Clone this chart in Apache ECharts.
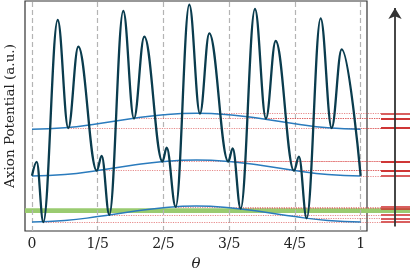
<!DOCTYPE html>
<html><head><meta charset="utf-8">
<script src="https://cdn.jsdelivr.net/npm/echarts@6/dist/echarts.min.js"></script>
<style>html,body{margin:0;padding:0;background:#fff}#c{width:410px;height:274px}</style>
</head><body><div id="c"></div>
<script>
// ---- data (theta, potential in a.u.) ----
const thetaTicks = [0, 0.2, 0.4, 0.6, 0.8, 1];
const tickLabels = ['0', '1/5', '2/5', '3/5', '4/5', '1'];

// extrema of the full potential (dark curve)
const potential = [
  [0, 5.52], [0.0143, 6.92], [0.0344, 0.9], [0.0782, 21.1], [0.1104, 10.3], [0.1409, 18.43],
  [0.197, 6.03], [0.2121, 7.5], [0.2352, 1.62], [0.2777, 22.0], [0.3103, 11.25], [0.3417, 19.43],
  [0.397, 6.95], [0.4098, 8.33], [0.4372, 2.42], [0.4786, 22.63], [0.5111, 11.73], [0.5394, 19.77],
  [0.597, 6.95], [0.6106, 8.27], [0.6349, 2.24], [0.6784, 22.2], [0.7119, 11.25], [0.7414, 19.0],
  [0.797, 6.03], [0.8123, 7.43], [0.8357, 1.27], [0.8783, 21.27], [0.9118, 10.3], [0.9422, 18.17],
  [1.0, 5.52]
];

// local minima (start of each red level line)
const minima = [
  [0.0344, 0.9], [0.1104, 10.3], [0.197, 6.03], [0.2352, 1.62], [0.3103, 11.25],
  [0.397, 6.95], [0.4372, 2.42], [0.5111, 11.73], [0.597, 6.95], [0.6349, 2.24],
  [0.7119, 11.25], [0.797, 6.03], [0.8357, 1.27], [0.9118, 10.3], [1.0, 5.52]
];

// smooth envelopes (blue curves)
const envTheta = [0, 0.1, 0.2, 0.3, 0.4, 0.5, 0.6, 0.7, 0.8, 0.9, 1];
const envTop = [10.17, 10.32, 10.72, 11.22, 11.62, 11.77, 11.62, 11.22, 10.72, 10.32, 10.17];
const envMid = [5.5, 5.65, 6.05, 6.55, 6.95, 7.1, 6.95, 6.55, 6.05, 5.65, 5.5];
const envBot = [0.89, 1.04, 1.44, 1.93, 2.33, 2.49, 2.33, 1.93, 1.44, 1.04, 0.89];

// highlighted band
const greenBand = [1.8, 2.27];

// ---- layout (axis units) ----
const X0MIN = -0.0213, X0MAX = 1.0193, X1MAX = 1.15;
const DOT_END = 1.0618, ARROW_X = 1.1044;
const YMIN = 0, YMAX = 23;
const serif = 'DejaVu Serif';

const zip = (xs, ys) => xs.map((x, i) => [x, ys[i]]);

const chart = echarts.init(document.getElementById('c'), null, {renderer: 'canvas'});
const hidden = {show: false};
const option = {
  animation: false,
  grid: [
    {left: 25, right: 43, top: 1, bottom: 43, show: true, borderColor: '#333', borderWidth: 1.2,
     backgroundColor: 'transparent', containLabel: false, outerBoundsMode: 'none'},
    {left: 25, right: 0, top: 1, bottom: 43, show: false, containLabel: false, outerBoundsMode: 'none'}
  ],
  xAxis: [
    {type: 'value', gridIndex: 0, min: X0MIN, max: X0MAX,
     name: 'θ', nameLocation: 'middle', nameGap: 26,
     nameTextStyle: {fontFamily: serif, fontStyle: 'italic', fontSize: 15, color: '#222'},
     axisLine: hidden, axisTick: hidden, splitLine: hidden,
     axisLabel: {customValues: thetaTicks, margin: 6, fontFamily: serif, fontSize: 14, color: '#222',
       formatter: v => { const i = thetaTicks.findIndex(t => Math.abs(t - v) < 1e-6); return i >= 0 ? tickLabels[i] : ''; }}},
    {type: 'value', gridIndex: 1, min: X0MIN, max: X1MAX, show: false, splitLine: hidden}
  ],
  yAxis: [
    {type: 'value', gridIndex: 0, min: YMIN, max: YMAX,
     name: 'Axion Potential (a.u.)', nameLocation: 'middle', nameGap: 8,
     nameTextStyle: {fontFamily: serif, fontSize: 13.5, color: '#222'},
     axisLine: hidden, axisTick: hidden, axisLabel: hidden, splitLine: hidden},
    {type: 'value', gridIndex: 1, min: YMIN, max: YMAX, show: false, splitLine: hidden}
  ],
  series: [
    // green band (across plot and side panel)
    {type: 'line', xAxisIndex: 1, yAxisIndex: 1, data: [], z: 1, silent: true,
     markArea: {silent: true, itemStyle: {color: '#9acb70'},
       data: [[{coord: [X0MIN, greenBand[0]]}, {coord: [X1MAX, greenBand[1]]}]]}},
    // vertical dashed grid lines
    {type: 'line', xAxisIndex: 0, yAxisIndex: 0, data: [], z: 2, silent: true,
     markLine: {silent: true, symbol: ['none', 'none'], label: hidden,
       lineStyle: {type: [5, 3], color: '#b4b4b4', width: 1.2},
       data: thetaTicks.map(t => ({xAxis: t}))}},
    // dotted levels from each minimum
    {type: 'line', xAxisIndex: 1, yAxisIndex: 1, data: [], z: 3, silent: true,
     markLine: {silent: true, symbol: ['none', 'none'], label: hidden,
       lineStyle: {type: [1.2, 1.2], color: 'rgba(214,60,60,0.6)', width: 1},
       data: minima.map(m => [{coord: [m[0], m[1]]}, {coord: [DOT_END, m[1]]}])}},
    // solid levels in side panel
    {type: 'line', xAxisIndex: 1, yAxisIndex: 1, data: [], z: 3, silent: true,
     markLine: {silent: true, symbol: ['none', 'none'], label: hidden,
       lineStyle: {type: 'solid', color: '#cc2a2a', width: 1.5},
       data: minima.map(m => [{coord: [DOT_END, m[1]]}, {coord: [X1MAX, m[1]]}])}},
    // energy arrow
    {type: 'line', xAxisIndex: 1, yAxisIndex: 1, data: [], z: 4, silent: true,
     markLine: {silent: true, symbol: ['none', 'arrow'], symbolSize: [10, 11], label: hidden,
       lineStyle: {type: 'solid', color: '#333', width: 1.8},
       data: [[{coord: [ARROW_X, 0.45]}, {coord: [ARROW_X, 22.3]}]]}},
    // blue envelopes
    ...[envTop, envMid, envBot].map(e => ({
      type: 'line', xAxisIndex: 0, yAxisIndex: 0, data: zip(envTheta, e), smooth: true,
      showSymbol: false, z: 5, lineStyle: {color: '#2a7bbd', width: 1.5}})),
    // full potential
    {type: 'line', xAxisIndex: 0, yAxisIndex: 0, data: potential, smooth: 0.38, smoothMonotone: 'x',
     showSymbol: false, z: 6, lineStyle: {color: '#0a3c4e', width: 2.3}}
  ]
};
chart.setOption(option);
</script>
</body></html>
